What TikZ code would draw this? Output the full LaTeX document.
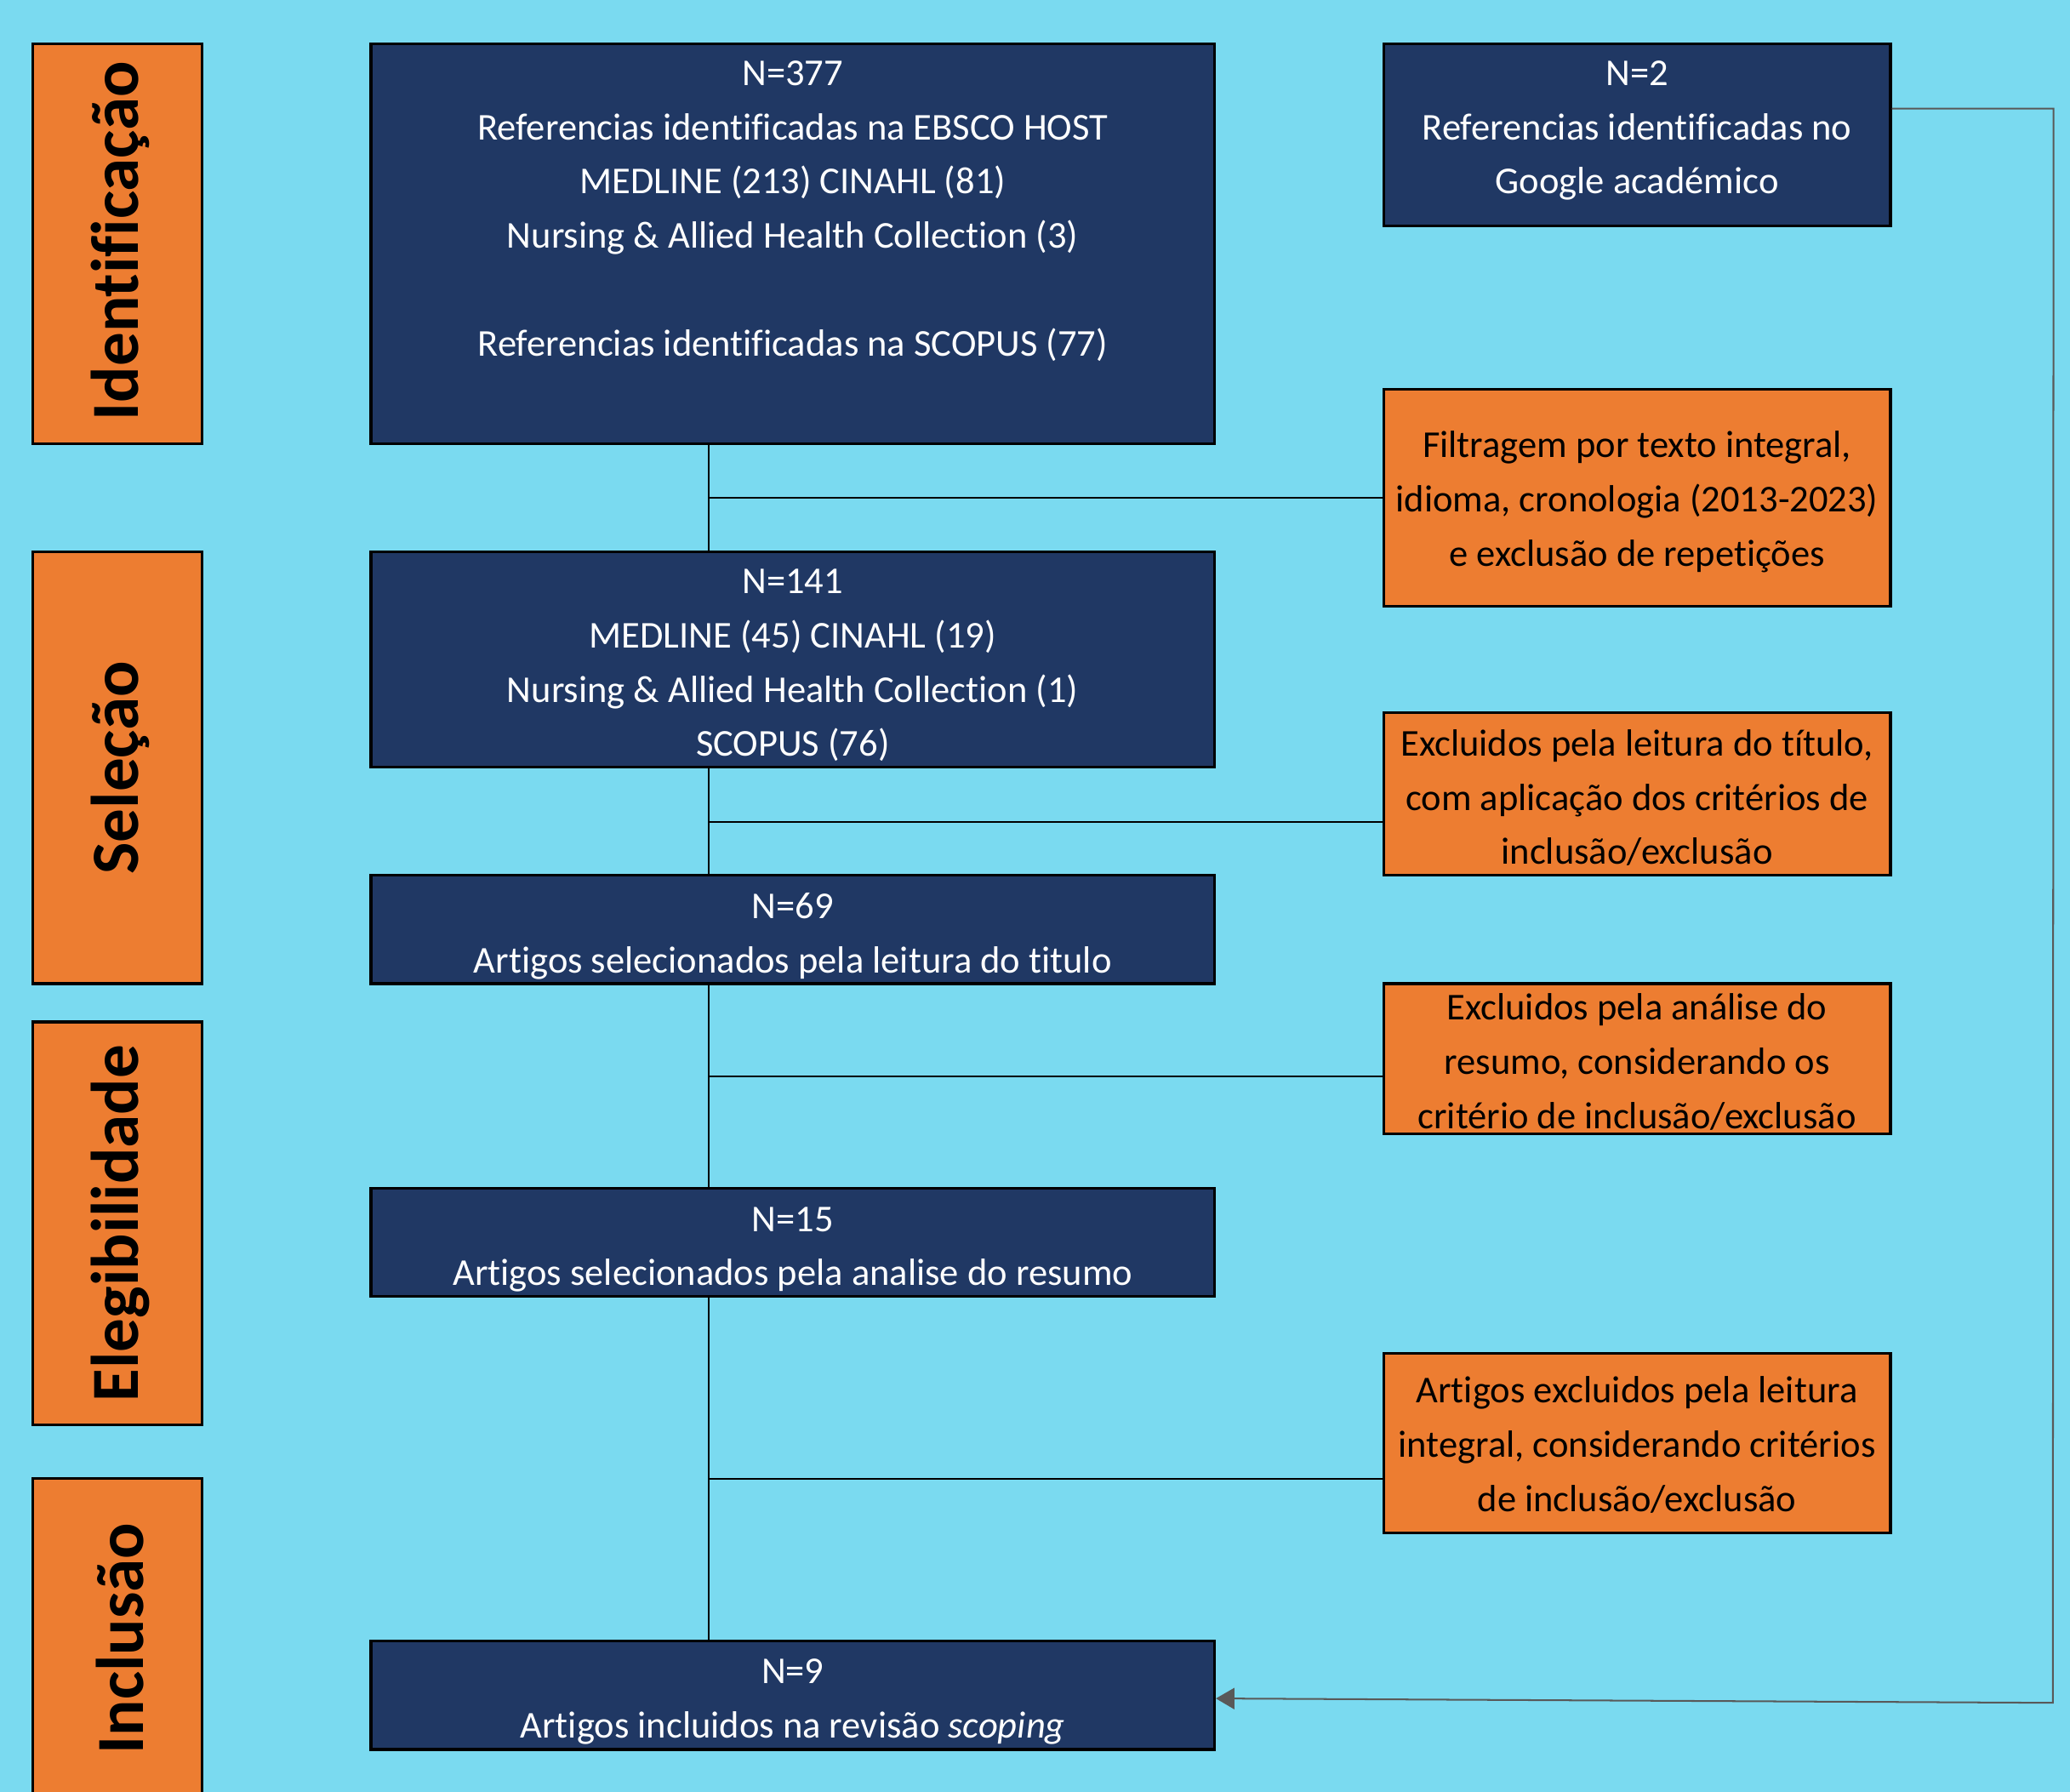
\documentclass[tikz,border=0pt]{standalone}
\usepackage{fontspec}
\setmainfont{Carlito}[Ligatures=NoCommon]
\usetikzlibrary{fit,arrows.meta}
\definecolor{bgc}{HTML}{7ADAF0}
\definecolor{navyc}{HTML}{203864}
\definecolor{orangec}{HTML}{ED7D31}
\definecolor{grayc}{HTML}{595959}
\newcommand\firstln{\rule{0pt}{30pt}}
\tikzset{
  navybox/.style={draw=black, line width=2pt, fill=navyc, inner sep=0pt},
  orangebox/.style={draw=black, line width=2pt, fill=orangec, inner sep=0pt},
  wtxt/.style={text=white, align=center, inner sep=0pt, anchor=north,
    font=\fontsize{28.7pt}{41pt}\selectfont},
  btxt/.style={text=black, align=center, inner sep=0pt, anchor=north,
    font=\fontsize{28.7pt}{41pt}\selectfont},
  lbl/.style={text=black, inner sep=0pt, rotate=90,
    font=\fontsize{51pt}{60pt}\selectfont\bfseries},
  conn/.style={draw=black, line width=1.4pt},
  garrow/.style={draw=grayc, line width=1.3pt, -{Triangle[length=14pt,width=16pt]}},
}
\begin{document}
\begin{tikzpicture}[x=1pt,y=-1pt]
\path[fill=bgc, use as bounding box] (0,0) rectangle (1568,1357);

% left stage labels
\node[orangebox, fit={(25,33)(153,336)}] (s1) {};
\node[orangebox, fit={(25,418)(153,745)}] (s2) {};
\node[orangebox, fit={(25,774)(153,1079)}] (s3) {};
\node[orangebox, fit={(25,1120)(153,1362)}] (s4) {};
\node[lbl] (l1) at ([xshift=2pt,yshift=2pt]s1.center) {Identificação};
\node[lbl] (l2) at ([xshift=2pt]s2.center) {Seleção};
\node[lbl] (l3) at ([xshift=2pt]s3.center) {Elegibilidade};
\node[lbl] (l4) at ([xshift=2pt]s4.center) {Inclusão};

% centre column
\node[navybox, fit={(281,33)(920,336)}] (b1) {};
\node[navybox, fit={(281,418)(920,581)}] (b2) {};
\node[navybox, fit={(281,663)(920,745)}] (b3) {};
\node[navybox, fit={(281,900)(920,982)}] (b4) {};
\node[navybox, fit={(281,1243)(920,1325)}] (b5) {};

\node[wtxt] (t1) at (600.5,34.5) {\firstln N=377\\Referencias identificadas na EBSCO HOST\\MEDLINE (213) CINAHL (81)\\Nursing \& Allied Health Collection (3)\\[41pt]Referencias identificadas na SCOPUS (77)};
\node[wtxt] (t2) at (600.5,419.5) {\firstln N=141\\MEDLINE (45) CINAHL (19)\\Nursing \& Allied Health Collection (1)\\SCOPUS (76)};
\node[wtxt] (t3) at (600.5,665.5) {\firstln N=69\\Artigos selecionados pela leitura do titulo};
\node[wtxt] (t4) at (600.5,902.5) {\firstln N=15\\Artigos selecionados pela analise do resumo};
\node[wtxt] (t5) at (600.5,1245) {\firstln N=9\\Artigos incluidos na revisão \textit{scoping}};

% right column
\node[navybox, fit={(1048,33)(1432,171)}] (n2) {};
\node[orangebox, fit={(1048,295)(1432,459)}] (f1) {};
\node[orangebox, fit={(1048,540)(1432,663)}] (e1) {};
\node[orangebox, fit={(1048,745)(1432,859)}] (e2) {};
\node[orangebox, fit={(1048,1025)(1432,1161)}] (e3) {};

\node[wtxt] (tn2) at (1240,34.5) {\firstln N=2\\Referencias identificadas no\\Google académico};
\node[btxt] (tf1) at (1240,316.5) {\firstln Filtragem por texto integral,\\idioma, cronologia (2013-2023)\\e exclusão de repetições};
\node[btxt] (te1) at (1240,542.5) {\firstln Excluidos pela leitura do título,\\com aplicação dos critérios de\\inclusão/exclusão};
\node[btxt] (te2) at (1240,742.5) {\firstln Excluidos pela análise do\\resumo, considerando os\\critério de inclusão/exclusão};
\node[btxt] (te3) at (1240,1032.5) {\firstln Artigos excluidos pela leitura\\integral, considerando critérios\\de inclusão/exclusão};

% connectors
\coordinate (vx) at (537,0);
\draw[conn] (b1.south -| vx) -- (b2.north -| vx);
\draw[conn] (b2.south -| vx) -- (b3.north -| vx);
\draw[conn] (b3.south -| vx) -- (b4.north -| vx);
\draw[conn] (b4.south -| vx) -- (b5.north -| vx);

\coordinate (j1) at (537,377);
\coordinate (j2) at (537,622.5);
\coordinate (j3) at (537,815);
\coordinate (j4) at (537,1120);
\draw[conn] (j1) -- (j1 -| f1.west);
\draw[conn] (j2) -- (j2 -| e1.west);
\draw[conn] (j3) -- (j3 -| e2.west);
\draw[conn] (j4) -- (j4 -| e3.west);

\coordinate (gTop) at (1555.5,82.3);
\coordinate (gBot) at (1555,1289.7);
\draw[garrow] (gTop -| n2.east) -- (gTop) -- (gBot) -- ([yshift=-2.4pt]b5.east);
\end{tikzpicture}
\end{document}
